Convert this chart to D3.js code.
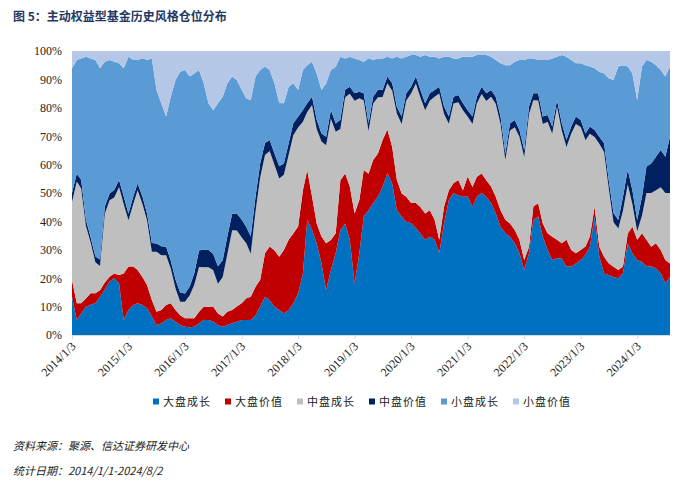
<!DOCTYPE html>
<html><head><meta charset="utf-8">
<script src="https://cdn.jsdelivr.net/npm/d3@7"></script>
<style>body{margin:0;background:#fff;} svg{display:block;}</style>
</head><body>
<svg id="chart" width="700" height="492"></svg>
<script>
// ---- data (percent of holdings, monthly readings 2014/1 - 2024/8) ----
const seriesNames = ["大盘成长","大盘价值","中盘成长","中盘价值","小盘成长","小盘价值"];
const startDate = "2014/1/3";
const endDate = "2024/8/2";
const tickLabels = ["2014/1/3","2015/1/3","2016/1/3","2017/1/3","2018/1/3","2019/1/3","2020/1/3","2021/1/3","2022/1/3","2023/1/3","2024/1/3"];
const yTicks = [0,0.1,0.2,0.3,0.4,0.5,0.6,0.7,0.8,0.9,1];

const largeGrowth = [13.5,5.3,7.6,10,10.6,11.2,13.5,16,18.8,20,
 18.2,5.3,8.8,10.6,11.2,10.6,9.4,6.5,3.5,4.1,
 5.3,5.9,4.7,3.5,2.9,2.7,2.9,4.1,5.3,5.3,
 4.7,3.5,2.9,3.5,4.1,4.7,5.3,5.3,5.3,7,
 10,13.5,12.3,10,8.8,7.6,8.8,11.2,14.7,21.7,
 40.5,37,32.3,25.2,15.8,22.9,28.8,37,39.3,33.5,
 18.2,28.8,41.7,44,46.4,48.7,52.2,56.9,53.4,44,
 41.7,39.9,39.3,37.6,35.8,33.5,34.6,33.5,28.8,39.3,
 47.5,49.9,49.3,48.7,48.7,45.2,48.7,50,48.7,46.4,
 42.8,38.1,35.8,34.6,32.3,28.8,22.9,28.8,40.5,41.7,
 34.6,29.9,26.4,27,27,24.1,24.1,25.2,26.4,28.2,
 31.1,41.7,27.6,21.7,21.1,20.5,20,21.7,32.3,28.8,
 26.4,25.8,24.1,24.1,23.5,21.7,18.2,20.5];
const largeValue = [5.9,5.9,3.6,2.9,4.1,3.5,2.3,2.5,1.7,1.7,
 2.9,16.4,15.3,13.5,11.7,9.9,8.2,5.8,4.7,4.7,
 5.3,5.3,4.1,3.5,3,3.2,3,4.1,4.7,4.7,
 5.3,4.1,3.6,4.7,4.7,5.3,5.9,7.6,8.2,10,
 9.4,15.3,18.8,19.9,18.8,22.3,24.7,24.6,23.4,29.3,
 17.6,11.7,7,9.4,16.5,10.6,7,17.6,17.6,18.7,
 24.6,18.7,16.4,12.9,15.2,15.3,16.5,15.3,12.9,10.6,
 8.2,8.8,7.1,8.8,9.4,9.3,9.4,7,4.7,5.9,
 3.5,3.5,5.3,2.3,7,7,7,6.9,5.9,5.8,
 5.9,5.9,4.7,4.7,4.7,4.7,3.5,2.3,4.7,4.7,
 4.7,5.9,8.2,6.5,5.3,9.4,5.8,3.6,3.5,2.9,
 3.5,3.5,3.5,5.9,4.1,3.6,2.9,2.4,3.5,9.3,
 7.1,10,9.4,7,8.8,8.2,8.2,4.7];
const midGrowth = [27.5,42.7,40.4,25.6,17.9,10.9,8.6,24.2,26.9,26.8,
 31,24.5,16.2,22.1,28,25.7,22.7,17,21.1,19.3,
 17.5,12.2,7.6,4.7,5.8,8.1,11.8,15.7,13.9,13.9,
 12.8,10.5,13.9,20.4,28,26.8,23.3,19.2,15.1,26.7,
 36,34.7,33.6,30.1,27.7,26.5,30,34.7,34.8,24.2,
 20.5,32.2,33.4,33.4,34.5,42.7,35.7,18.1,26.9,32.7,
 39.8,35.7,24.5,15.1,19.8,19.8,15.1,16.3,19.8,23.3,
 24.5,33.9,38.5,42.1,38.6,36.3,38.6,43.3,51.4,32.7,
 23.4,28,27.4,28.1,21,22.2,25.7,28,28,31.6,
 32.7,30.4,21,32.7,36.2,36.2,36.2,46.8,37.4,36.2,
 35.1,39.2,36.3,46.7,39.7,32.7,41,45.6,43.3,37.4,
 36.3,24.5,36.2,36.9,26.4,15.7,14.6,19.6,17.3,7.9,
 3,6.2,16.5,18.9,18.7,22.1,23.6,24.8];
const midValue = [3.2,2.8,3.1,2.2,1.9,2.1,2.3,2.6,2.4,2.7,
 2.5,2.8,2.3,2.6,2.4,2.7,2.5,3.1,2.9,3.2,
 3,2.8,3.1,3.3,2.9,3.1,4,5.8,6.3,6.1,
 5.7,6.2,5.9,6.4,5.8,6,6.3,5.7,6.1,5.2,
 4.9,4.2,3.8,4.1,4.3,3.9,4,4.2,3.8,4.1,
 3.1,2.9,3.2,2.8,3,3.1,2.9,3.2,2.6,2.4,
 2.6,2.3,2.5,2.7,2.4,2.6,2.5,2.3,2.6,2.4,
 2.6,2.5,2.3,2.4,2.7,2.5,2.6,2.4,2.3,2.6,
 2.5,2.4,2.6,2.5,2.3,2.6,2.4,2.5,2.7,2.4,
 2.5,2.6,2.3,2.5,2.6,2.4,2.5,2.7,2.4,2.5,
 2.6,2.4,2.5,2.3,2.6,2.5,2.4,2.6,2.5,2.4,
 2.6,2.5,2.4,3.1,2.9,3.2,3,4.8,5.2,4.9,
 4,6.7,9.3,10.4,11.8,13.1,12.8,19.8];
const smallGrowth = [44,39.9,42.8,57.5,62.8,69.2,67.5,51,46.9,45.2,
 41.1,45.2,55.2,48.1,43.4,48.7,54,65.1,54,50.5,
 45.8,57.5,70.4,78,78.6,74,70.4,63.4,58.7,51.7,
 50.4,57.5,57.5,54,48.2,47,45.8,45.2,48.1,42.3,
 32.9,27,24.6,24.6,22.3,21.2,19.9,14.1,9.4,14.1,
 13.4,12.3,16.4,15.3,18.8,14.1,20,22.3,11.1,10.6,
 12.3,11.1,11.1,22.9,12.9,11.1,11.1,7,8.8,17.6,
 20.5,12.9,11.2,7.6,11.7,17,12.9,11.7,10,17.6,
 21.1,13.5,12.9,16.4,18.8,21.1,14.7,11.2,13.5,11.7,
 12.9,18.8,31,20.5,20.5,24.6,31.7,17,12.3,11.7,
 19.9,19.3,24,15.3,24.1,29.3,23.4,18.8,20,24,
 21.1,21.7,22.9,24.6,35.8,47,54,46.3,36.4,41.1,
 42.2,45.8,37.5,35.8,32.2,28.2,28.2,24.7];
const smallValue = [6.1,3.2,2.6,2,2.6,3.2,6.1,3.8,3.2,3.8,
 4.3,6.1,2,3.2,3.2,2.6,3.2,2.6,13.7,18.4,
 23.1,16.1,10.2,7.3,6.7,9,7.9,6.7,11.4,18.4,
 20.8,18.4,16.1,11.4,9,10.2,13.7,16.7,17.3,9,
 6.7,5.5,6.7,11.4,18.4,18.4,12.6,11.4,13.7,6.7,
 5,3.8,7.9,13.7,11.4,6.7,5.5,2,2.6,2,
 2.6,3.2,3.8,2.6,3.2,2.6,2.6,2,2.6,2,
 2.6,2,1.4,1.4,2,1.4,2,2,2.6,2,
 2,2.6,2.6,2,2,2,1.4,1.4,1.4,2,
 3.2,4.3,5,5,3.8,3.2,3.2,2.6,2.6,3.2,
 3.2,3.2,2.6,2,1.4,2,3.2,4.3,4.3,5,
 5.5,6.1,7.3,7.9,9.6,10.2,5.5,5,5.5,7.9,
 17.3,5.5,3.2,3.8,5,6.7,9,5.5];

const seriesData = [largeGrowth, largeValue, midGrowth, midValue, smallGrowth, smallValue];
const colors = ["#0070C0","#C00000","#BFBFBF","#002060","#5B9BD5","#B4C7E7"];

// ---- build table ----
const parse = d3.timeParse("%Y/%-m/%-d");
const t0 = parse(startDate), t1 = parse(endDate);
const n = largeGrowth.length;
const rows = d3.range(n).map(i => {
  const r = { date: i === n - 1 ? t1 : d3.timeMonth.offset(t0, i) };
  seriesNames.forEach((k, j) => r[k] = seriesData[j][i]);
  return r;
});

const svg = d3.select("#chart");
const M = { left: 72, right: 670, top: 51, bottom: 335 };

const x = d3.scaleTime().domain([t0, t1]).range([M.left, M.right]);
const y = d3.scaleLinear().domain([0, 1]).range([M.bottom, M.top]);

const stack = d3.stack().keys(seriesNames).offset(d3.stackOffsetExpand);
const layers = stack(rows);
const area = d3.area().x(d => x(d.data.date)).y0(d => y(d[0])).y1(d => y(d[1]));

svg.append("g").selectAll("path").data(layers).join("path")
  .attr("d", area).attr("fill", (d, i) => colors[i]);

// title
svg.append("text").attr("x", 13).attr("y", 21)
  .attr("font-family", "'Noto Sans CJK SC', sans-serif").attr("font-weight", "bold")
  .attr("font-size", 12).attr("fill", "#1F3864").text("图 5：主动权益型基金历史风格仓位分布");

// y axis
const yAxis = d3.axisLeft(y).tickValues(yTicks).tickFormat(d3.format(".0%")).tickSize(0).tickPadding(10);
const gy = svg.append("g").attr("transform", `translate(${M.left},0)`).call(yAxis);
gy.select(".domain").remove();
gy.selectAll("text").attr("font-family", "'Liberation Serif', serif").attr("font-size", 12).attr("fill", "#222");

// x axis
const tickDates = tickLabels.map(parse);
const xAxis = d3.axisBottom(x).tickValues(tickDates).tickFormat((d, i) => tickLabels[i]).tickSize(4).tickSizeOuter(0);
const gx = svg.append("g").attr("transform", `translate(0,${M.bottom})`).call(xAxis);
gx.select(".domain").attr("stroke", "#D9D9D9");
gx.selectAll(".tick line").attr("stroke", "#D9D9D9");
gx.selectAll("text")
  .attr("font-family", "'Liberation Serif', serif").attr("font-size", 12).attr("fill", "#222")
  .attr("text-anchor", "end").attr("dy", null).attr("y", null)
  .attr("transform", "translate(4,12) rotate(-45)");

// legend
const lg = svg.append("g").attr("transform", "translate(153,402)");
seriesNames.forEach((name, i) => {
  const g = lg.append("g").attr("transform", `translate(${i * 72},0)`);
  g.append("rect").attr("x", 0).attr("y", -3.5).attr("width", 6).attr("height", 6).attr("fill", colors[i]);
  g.append("text").attr("x", 10).attr("y", 4)
    .attr("font-family", "'Noto Sans CJK SC', sans-serif").attr("font-size", 11)
    .attr("letter-spacing", 1).attr("fill", "#222").text(name);
});

// footer
svg.append("text").attr("x", 13).attr("y", 450)
  .attr("font-family", "'Noto Sans CJK SC', sans-serif").attr("font-size", 11).attr("font-style", "italic")
  .attr("fill", "#222").text("资料来源：聚源、信达证券研发中心");
svg.append("text").attr("x", 13).attr("y", 475)
  .attr("font-family", "'Noto Sans CJK SC', sans-serif").attr("font-size", 11).attr("font-style", "italic")
  .attr("fill", "#222").text("统计日期：2014/1/1-2024/8/2");
</script>
</body></html>
